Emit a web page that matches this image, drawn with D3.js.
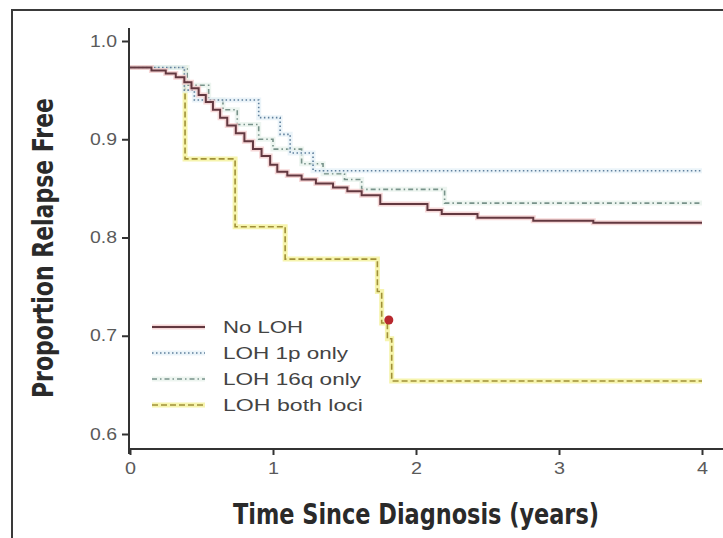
<!DOCTYPE html>
<html><head><meta charset="utf-8">
<script src="https://cdn.jsdelivr.net/npm/d3@7"></script>
<style>
html,body{margin:0;padding:0;background:#fff;}
svg{display:block;}
</style>
</head><body>
<svg id="chart" width="723" height="538"></svg>
<script>
// ---- data ----
const xTicks = [0, 1, 2, 3, 4];
const yTicks = [0.6, 0.7, 0.8, 0.9, 1.0];
const seriesNames = ["No LOH", "LOH 1p only", "LOH 16q only", "LOH both loci"];

const noLohTimes  = [0, 0.15, 0.25, 0.32, 0.38, 0.43, 0.48, 0.53, 0.58, 0.63, 0.68, 0.74, 0.80, 0.86, 0.92, 0.98, 1.03, 1.10, 1.20, 1.30, 1.42, 1.52, 1.62, 1.75, 2.08, 2.18, 2.43, 2.82, 3.24, 4.0];
const noLohValues = [0.973, 0.970, 0.967, 0.963, 0.958, 0.952, 0.945, 0.938, 0.930, 0.922, 0.914, 0.906, 0.898, 0.890, 0.883, 0.874, 0.867, 0.863, 0.859, 0.855, 0.851, 0.847, 0.843, 0.834, 0.828, 0.824, 0.820, 0.817, 0.815, 0.815];

const loh1pTimes  = [0, 0.38, 0.45, 0.90, 1.05, 1.12, 1.28, 4.0];
const loh1pValues = [0.973, 0.950, 0.940, 0.922, 0.905, 0.886, 0.868, 0.868];

const loh16qTimes  = [0, 0.40, 0.55, 0.65, 0.75, 0.90, 1.00, 1.20, 1.35, 1.50, 1.62, 2.20, 4.0];
const loh16qValues = [0.973, 0.955, 0.940, 0.930, 0.915, 0.900, 0.890, 0.875, 0.865, 0.859, 0.849, 0.835, 0.835];

const lohBothTimes  = [0, 0.385, 0.735, 1.085, 1.73, 1.76, 1.80, 1.83, 4.0];
const lohBothValues = [0.973, 0.880, 0.811, 0.778, 0.745, 0.713, 0.697, 0.654, 0.654];

const markerTime = [1.81];
const markerValue = [0.716];

// ---- drawing ----
const svg = d3.select("#chart");
const x = d3.scaleLinear().domain([0, 4]).range([130, 702]);
const y = d3.scaleLinear().domain([0.6, 1.0]).range([434, 41]);

// outer frame
svg.append("rect").attr("x", 12).attr("y", 10).attr("width", 720).attr("height", 540)
  .attr("fill", "none").attr("stroke", "#3a3a3a").attr("stroke-width", 2);

const tickFont = "'Liberation Sans', Arial, sans-serif";
const titleFont = "'Liberation Sans Narrow', 'DejaVu Sans Condensed', Arial, sans-serif";

// y axis
const yAxis = svg.append("g").attr("transform", `translate(${x(0) - 1},0)`)
  .call(d3.axisLeft(y).tickValues(yTicks).tickFormat(d3.format(".1f")).tickSize(7).tickSizeOuter(0).tickPadding(5));
yAxis.select(".domain").remove();
yAxis.selectAll(".tick line").attr("stroke", "#333").attr("stroke-width", 2);
yAxis.selectAll(".tick text").attr("fill", "#5a5a5a").attr("font-family", tickFont).attr("font-size", 16)
  .attr("textLength", 27).attr("lengthAdjust", "spacingAndGlyphs");

// x axis
const xAxisY = y(0.6) + 15;
const xAxis = svg.append("g").attr("transform", `translate(0,${xAxisY})`)
  .call(d3.axisBottom(x).tickValues(xTicks).tickFormat(d3.format("d")).tickSize(6).tickSizeOuter(0).tickPadding(8));
xAxis.select(".domain").remove();
xAxis.selectAll(".tick line").attr("stroke", "#333").attr("stroke-width", 2);
xAxis.selectAll(".tick text").attr("fill", "#5a5a5a").attr("font-family", tickFont).attr("font-size", 16)
  .attr("textLength", 11).attr("lengthAdjust", "spacingAndGlyphs");

// axis lines
svg.append("line").attr("x1", x(0) - 1).attr("x2", x(0) - 1).attr("y1", y(1.0) - 13).attr("y2", xAxisY + 5)
  .attr("stroke", "#333").attr("stroke-width", 2);
svg.append("line").attr("x1", x(0) - 2).attr("x2", 723).attr("y1", xAxisY).attr("y2", xAxisY)
  .attr("stroke", "#333").attr("stroke-width", 2.2);

// titles
svg.append("text").attr("x", 416).attr("y", 524).attr("text-anchor", "middle")
  .attr("font-family", titleFont).attr("font-weight", "bold").attr("font-size", 28).attr("fill", "#2a2a2a")
  .attr("textLength", 366).attr("lengthAdjust", "spacingAndGlyphs")
  .text("Time Since Diagnosis (years)");
svg.append("text").attr("transform", "translate(53,248) rotate(-90)").attr("text-anchor", "middle")
  .attr("font-family", titleFont).attr("font-weight", "bold").attr("font-size", 28).attr("fill", "#2a2a2a")
  .attr("textLength", 300).attr("lengthAdjust", "spacingAndGlyphs")
  .text("Proportion Relapse Free");

// curves
const line = d3.line().x(d => x(d[0])).y(d => y(d[1])).curve(d3.curveStepAfter);
const zip = (t, v) => t.map((d, i) => [d, v[i]]);

const styles = [
  {t: noLohTimes, v: noLohValues, color: "#633840", width: 2, dash: null, halo: "#f2c6c6"},
  {t: loh1pTimes, v: loh1pValues, color: "#5f7f9c", width: 1.6, dash: "1.5,2.5", halo: "#e3f0f6"},
  {t: loh16qTimes, v: loh16qValues, color: "#78938a", width: 1.6, dash: "5,3,1.5,3", halo: "#e6f1ea"},
  {t: lohBothTimes, v: lohBothValues, color: "#a09038", width: 1.6, dash: "6,3", halo: "#f2f08a"}
];

const drawOrder = [3, 2, 1, 0];
drawOrder.forEach(i => {
  const s = styles[i];
  svg.append("path").attr("d", line(zip(s.t, s.v))).attr("fill", "none")
    .attr("stroke", s.halo).attr("stroke-width", 5).attr("stroke-opacity", 0.7);
  svg.append("path").attr("d", line(zip(s.t, s.v))).attr("fill", "none")
    .attr("stroke", s.color).attr("stroke-width", s.width)
    .attr("stroke-dasharray", s.dash);
});

// marker
svg.selectAll("circle.marker").data(zip(markerTime, markerValue)).enter().append("circle")
  .attr("class", "marker").attr("cx", d => x(d[0])).attr("cy", d => y(d[1])).attr("r", 4.5)
  .attr("fill", "#b8282e");

// legend
const legendRows = [327, 353, 379, 405];
const legendTextLen = [80, 125, 138, 140];
const lg = svg.append("g");
seriesNames.forEach((name, i) => {
  const s = styles[i];
  lg.append("line").attr("x1", 152).attr("x2", 205).attr("y1", legendRows[i]).attr("y2", legendRows[i])
    .attr("stroke", s.halo).attr("stroke-width", 5).attr("stroke-opacity", 0.7);
  lg.append("line").attr("x1", 152).attr("x2", 205).attr("y1", legendRows[i]).attr("y2", legendRows[i])
    .attr("stroke", s.color).attr("stroke-width", s.width).attr("stroke-dasharray", s.dash);
  lg.append("text").attr("x", 223).attr("y", legendRows[i] + 6)
    .attr("font-family", tickFont).attr("font-size", 17).attr("fill", "#444")
    .attr("textLength", legendTextLen[i]).attr("lengthAdjust", "spacingAndGlyphs")
    .text(name);
});
</script>
</body></html>
